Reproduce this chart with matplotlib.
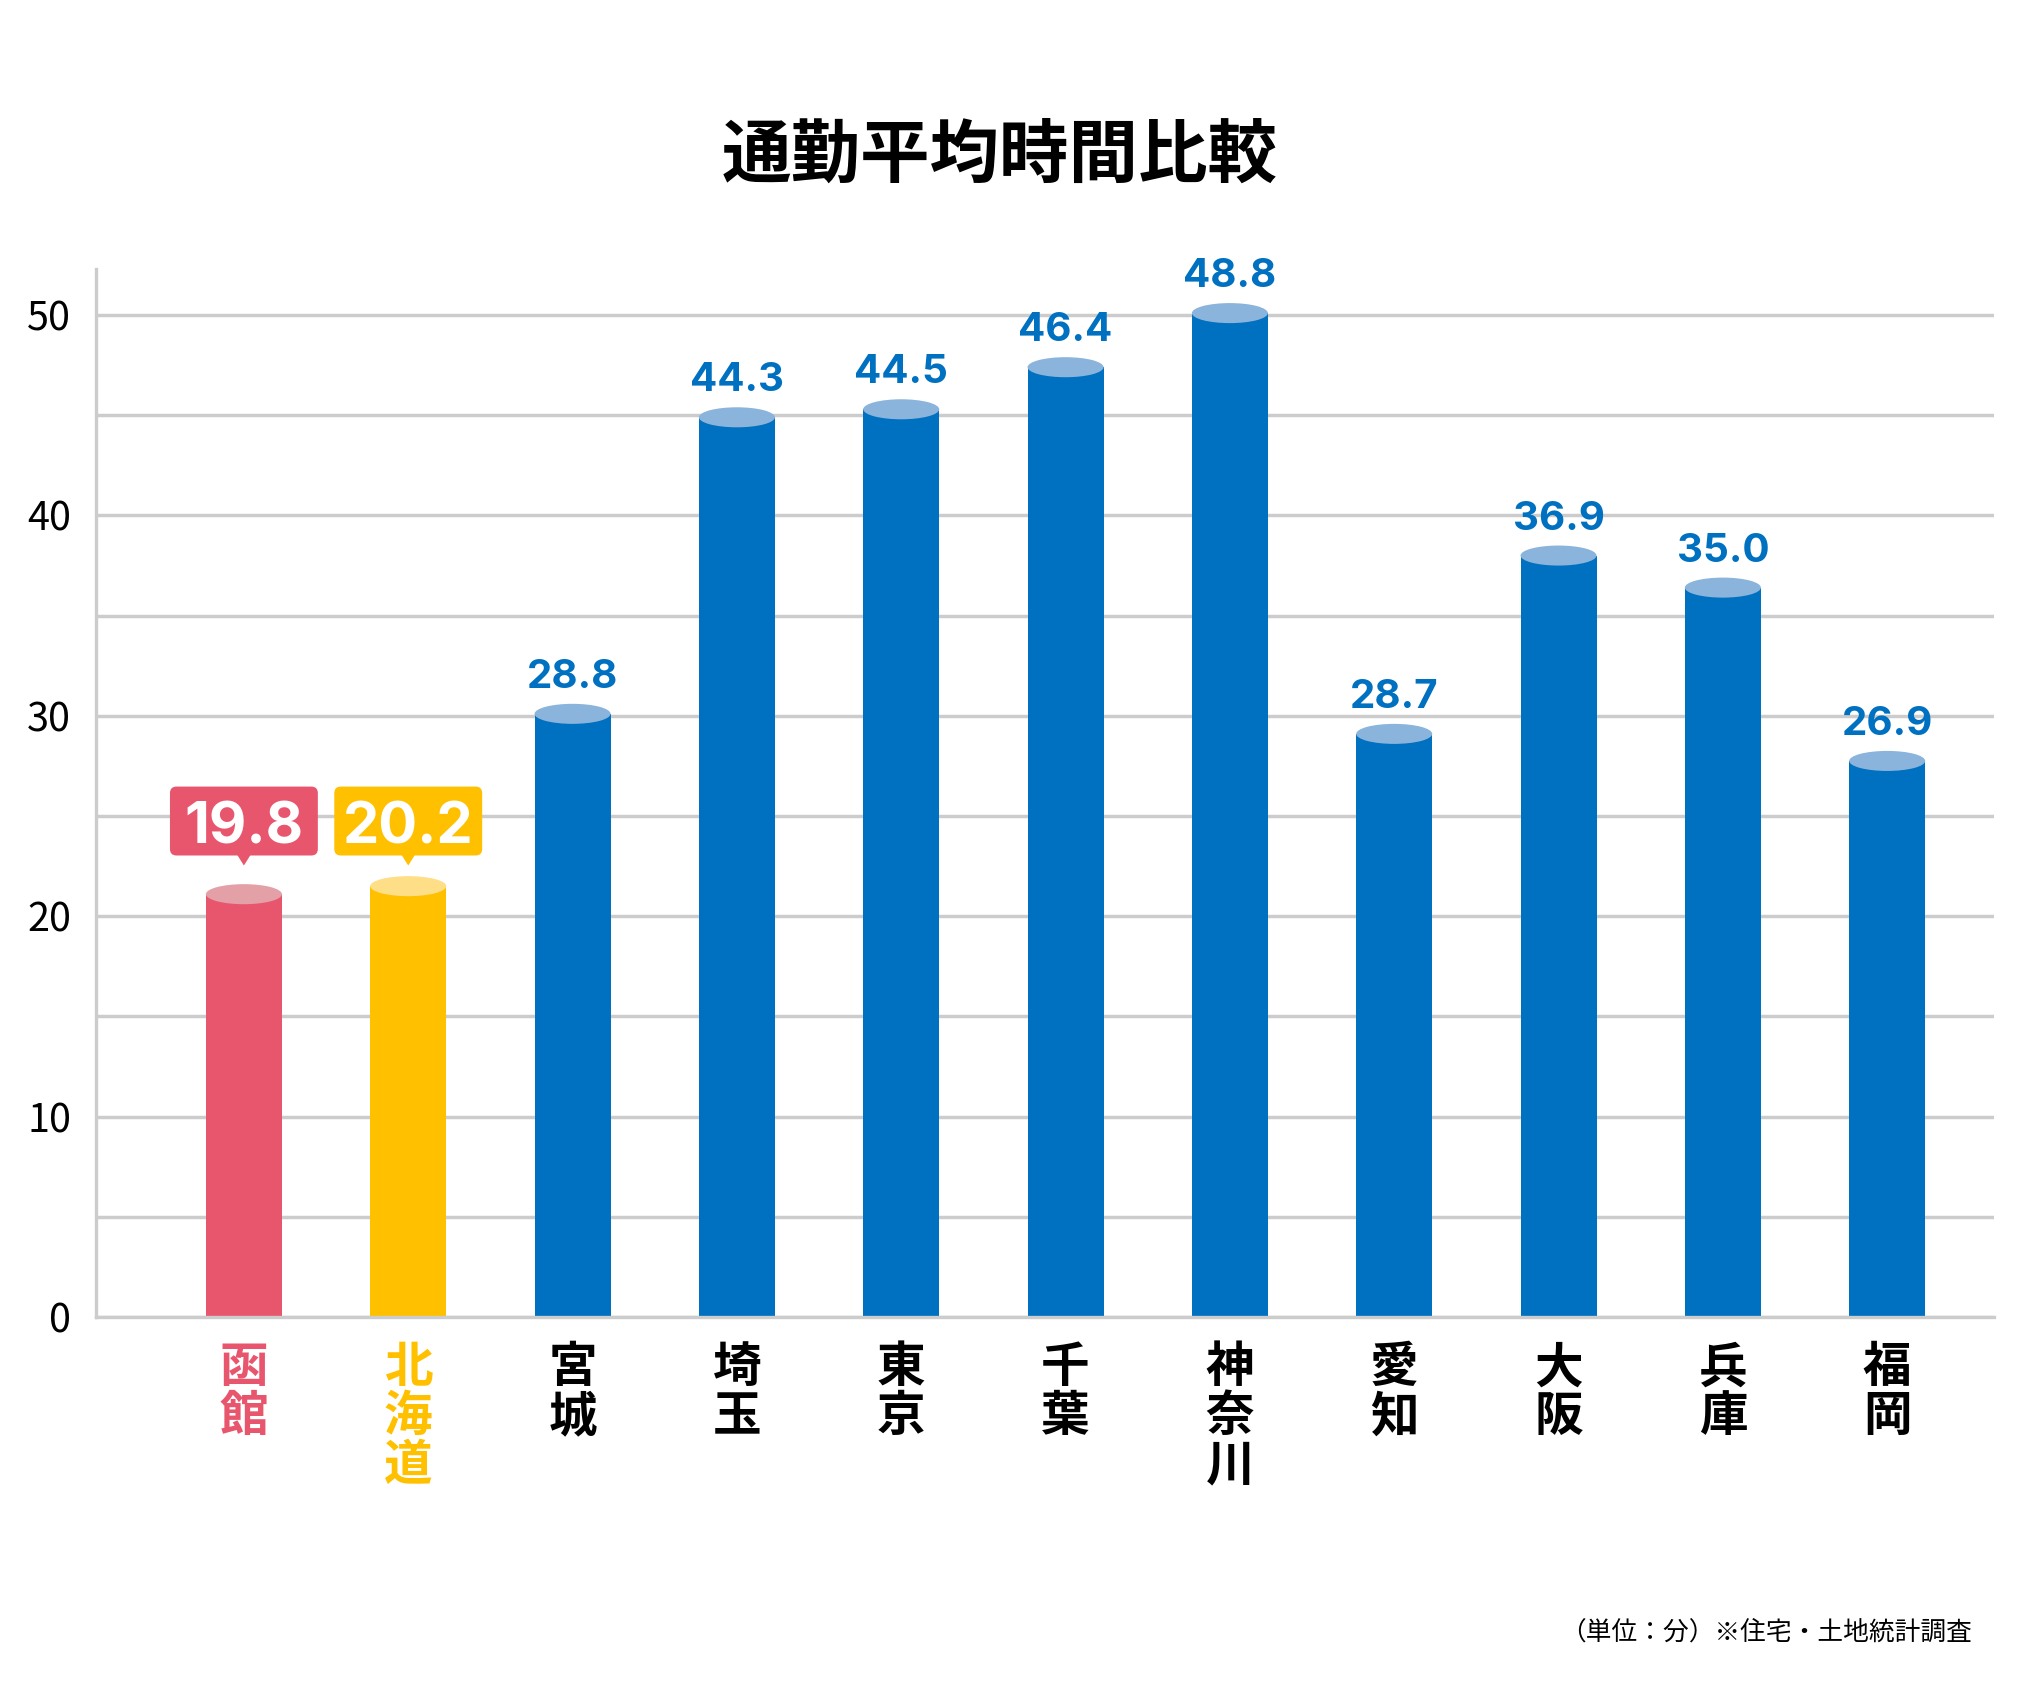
import matplotlib
matplotlib.use('Agg')
import matplotlib.pyplot as plt
from matplotlib.patches import Ellipse, FancyBboxPatch, Polygon
from matplotlib.ticker import MultipleLocator

plt.rcParams['font.family'] = ['Noto Sans CJK JP', 'DejaVu Sans']

# ---- data ----
categories = ['函館', '北海道', '宮城', '埼玉', '東京', '千葉', '神奈川', '愛知', '大阪', '兵庫', '福岡']
values = [19.8, 20.2, 28.8, 44.3, 44.5, 46.4, 48.8, 28.7, 36.9, 35.0, 26.9]
# drawn bar heights (top-ellipse centre)
bar_tops = [21.1, 21.5, 30.1, 44.9, 45.3, 47.4, 50.1, 29.1, 38.0, 36.4, 27.75]
y_ticks = [0, 10, 20, 30, 40, 50]
title = '通勤平均時間比較'
note = '（単位：分）※住宅・土地統計調査'

# ---- styles ----
BLUE, BLUE_TOP = '#0070C0', '#8AB4DB'
RED, RED_TOP = '#E8566E', '#E3A0A7'
YEL, YEL_TOP = '#FFC000', '#FFDE88'
style = {'函館': (RED, RED_TOP), '北海道': (YEL, YEL_TOP)}
GRID = '#CCCCCC'
NUM_FONT = ['Inter', 'DejaVu Sans']

fig = plt.figure(figsize=(20.17, 17.07), dpi=100)
ax = fig.add_axes([0.0476, 0.2285, 0.9410, 0.6139])

x = list(range(len(categories)))
bw = 0.4626
fills = [style.get(c, (BLUE, BLUE_TOP))[0] for c in categories]
tops = [style.get(c, (BLUE, BLUE_TOP))[1] for c in categories]

ax.bar(x, bar_tops, width=bw, color=fills, zorder=3, linewidth=0)
for i, h in enumerate(bar_tops):
    ax.add_patch(Ellipse((i, h), width=bw, height=1.0, facecolor=tops[i],
                         edgecolor='none', zorder=4))

ax.set_xlim(-0.90, 10.65)
ax.set_ylim(0, 52.3)

ax.yaxis.set_major_locator(MultipleLocator(10))
ax.yaxis.set_minor_locator(MultipleLocator(5))
ax.set_yticks(y_ticks)
ax.set_yticklabels([str(t) for t in y_ticks])
ax.grid(axis='y', which='both', color=GRID, linewidth=2.5, zorder=0)
ax.set_axisbelow(True)
ax.set_xticks([])
ax.tick_params(axis='y', which='both', length=0, labelsize=28.5, pad=18, labelcolor='black')
for s in ['top', 'right']:
    ax.spines[s].set_visible(False)
for s in ['left', 'bottom']:
    ax.spines[s].set_color(GRID)
    ax.spines[s].set_linewidth(2.4)
    ax.spines[s].set_zorder(5)

# value labels
box_cy, box_h, box_w = 24.75, 3.44, 0.90
aspect = (1 / 20.04) / (1 / 164.3)
for i, (c, v, h) in enumerate(zip(categories, values, bar_tops)):
    if c in style:
        col = style[c][0]
        ax.add_patch(FancyBboxPatch((i - box_w / 2, box_cy - box_h / 2), box_w, box_h,
                                    boxstyle='round,pad=0,rounding_size=0.04',
                                    mutation_aspect=aspect, facecolor=col,
                                    edgecolor='none', zorder=6))
        yb = box_cy - box_h / 2
        ax.add_patch(Polygon([(i - 0.042, yb + 0.05), (i + 0.042, yb + 0.05), (i, yb - 0.5)],
                             closed=True, facecolor=col, edgecolor='none', zorder=6))
        ax.text(i, 23.65, f'{v:.1f}', ha='center', va='baseline', color='white',
                fontsize=41.5, fontweight='bold', family=NUM_FONT, zorder=7)
    else:
        ax.annotate(f'{v:.1f}', xy=(i, h), xytext=(0, 18.7), textcoords='offset points',
                    ha='center', va='baseline', color=BLUE, fontsize=29,
                    fontweight='bold', family=NUM_FONT, zorder=7)

# vertical category labels
for i, c in enumerate(categories):
    col = style[c][0] if c in style else 'black'
    for k, ch in enumerate(c):
        off_px = 51 + 49 * k
        ax.annotate(ch, xy=(i, 0), xycoords='data', xytext=(0, -off_px * 0.72),
                    textcoords='offset points', ha='center', va='center',
                    fontsize=35, fontweight='bold', color=col, annotation_clip=False)

fig.text(0.4955, 0.9086, title, ha='center', va='center', fontsize=50,
         fontweight='bold', color='black')
fig.text(0.9777, 0.0434, note, ha='right', va='center', fontsize=18.5, color='black')

fig.savefig('out.png', dpi=100)
